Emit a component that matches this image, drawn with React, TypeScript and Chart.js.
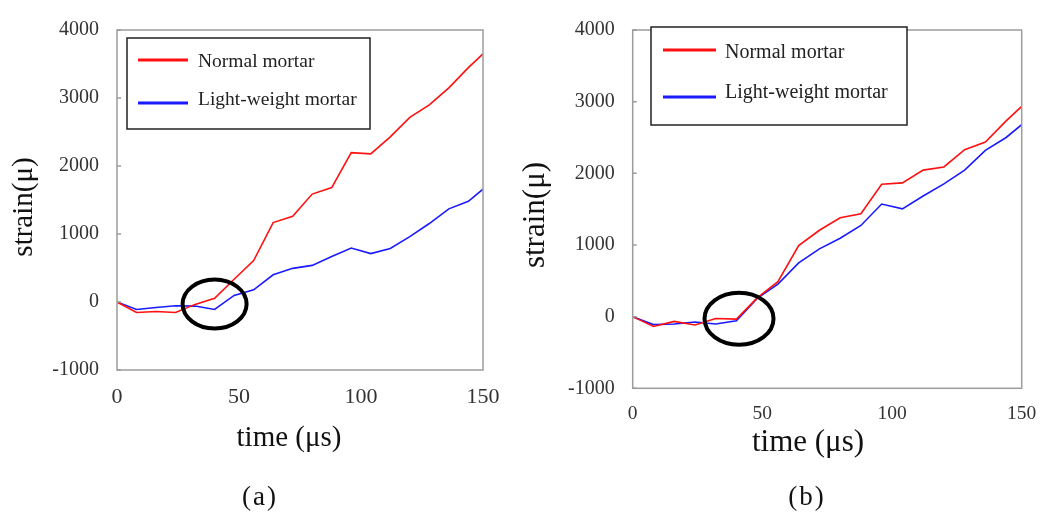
import React, { useEffect, useRef } from "react";
import { Chart, registerables } from "chart.js";

Chart.register(...registerables);

// ---- data ----
const timeUs = [0, 8, 16, 24, 32, 40, 48, 56, 64, 72, 80, 88, 96, 104, 112, 120, 128, 136, 144, 150];
const normalA = [0, -155, -140, -155, -35, 55, 335, 610, 1168, 1260, 1587, 1683, 2197, 2178, 2428, 2716, 2899, 3149, 3447, 3649];
const lightA = [0, -110, -80, -56, -60, -110, 96, 180, 400, 495, 538, 668, 793, 712, 788, 962, 1154, 1370, 1480, 1659];
const normalB = [0, -138, -67, -116, -27, -35, 262, 487, 991, 1205, 1379, 1437, 1848, 1866, 2045, 2089, 2330, 2437, 2732, 2933];
const lightB = [0, -111, -103, -75, -103, -58, 255, 455, 750, 946, 1094, 1272, 1571, 1504, 1683, 1853, 2045, 2321, 2500, 2679];
const yTickValues = [-1000, 0, 1000, 2000, 3000, 4000];
const xTickValues = [0, 50, 100, 150];
const seriesLabels = ["Normal mortar", "Light-weight mortar"];
const seriesColors = ["#ff1010", "#1a1aff"];
const panelCaptions = ["(a)", "(b)"];
const xTitle = "time (\u03bcs)";
const yTitle = "strain(\u03bc)";
const markTime = [40, 41];
const markStrain = [-30, -30];

const SERIF = "'Liberation Serif', 'Times New Roman', serif";

type Panel = {
  left: number;
  width: number;
  height: number;
  plot: { left: number; right: number; top: number; bottom: number };
  normal: number[];
  light: number[];
  caption: string;
  captionX: number;
  captionY: number;
  xTitleX: number;
  xTitleY: number;
  yTitleX: number;
  yTitleY: number;
  titleSize: number;
  yTickSize: number;
  xTickSize: number;
  xTickPad: number;
  legend: { x: number; y: number; w: number; h: number; lineX0: number; lineX1: number; textX: number; rows: number[]; textRows: number[]; fontSize: number };
  ellipse: { t: number; s: number; rx: number; ry: number };
};

const panels: Panel[] = [
  {
    left: 0,
    width: 520,
    height: 518,
    plot: { left: 117, right: 483, top: 25, bottom: 370 },
    normal: normalA,
    light: lightA,
    caption: panelCaptions[0],
    captionX: 259,
    captionY: 498,
    xTitleX: 289,
    xTitleY: 438,
    yTitleX: 24,
    yTitleY: 207,
    titleSize: 29,
    yTickSize: 20,
    xTickSize: 22,
    xTickPad: 14,
    legend: { x: 127, y: 38, w: 243, h: 91, lineX0: 138, lineX1: 188, textX: 198, rows: [60, 103], textRows: [62, 100], fontSize: 19.5 },
    ellipse: { t: markTime[0], s: markStrain[0], rx: 32, ry: 24.5 },
  },
  {
    left: 520,
    width: 531,
    height: 518,
    plot: { left: 112.7, right: 501.7, top: 15.7, bottom: 388.3 },
    normal: normalB,
    light: lightB,
    caption: panelCaptions[1],
    captionX: 286,
    captionY: 498,
    xTitleX: 288,
    xTitleY: 443,
    yTitleX: 16,
    yTitleY: 215,
    titleSize: 31,
    yTickSize: 20,
    xTickSize: 19.5,
    xTickPad: 14,
    legend: { x: 131, y: 27, w: 256, h: 98, lineX0: 143, lineX1: 196, textX: 205, rows: [50, 97], textRows: [53, 93], fontSize: 20 },
    ellipse: { t: markTime[1], s: markStrain[1], rx: 34.5, ry: 26 },
  },
];

function makeDecor(p: Panel) {
  return {
    id: "decor",
    afterDraw(chart: any) {
      const { ctx, chartArea: ca, scales } = chart;
      ctx.save();
      // plot frame
      ctx.strokeStyle = "#9c9c9c";
      ctx.lineWidth = 1.5;
      ctx.strokeRect(ca.left, ca.top, ca.right - ca.left, ca.bottom - ca.top);
      // inward ticks on y axis
      ctx.beginPath();
      yTickValues.forEach((v) => {
        const y = scales.y.getPixelForValue(v);
        ctx.moveTo(ca.left, y);
        ctx.lineTo(ca.left + 4, y);
      });
      ctx.stroke();

      // highlight ellipse
      const cx = scales.x.getPixelForValue(p.ellipse.t);
      const cy = scales.y.getPixelForValue(p.ellipse.s);
      ctx.beginPath();
      ctx.ellipse(cx, cy, p.ellipse.rx, p.ellipse.ry, 0, 0, Math.PI * 2);
      ctx.strokeStyle = "#000";
      ctx.lineWidth = 4;
      ctx.stroke();

      // legend box
      const L = p.legend;
      ctx.fillStyle = "#fff";
      ctx.fillRect(L.x, L.y, L.w, L.h);
      ctx.strokeStyle = "#222";
      ctx.lineWidth = 1.5;
      ctx.strokeRect(L.x, L.y, L.w, L.h);
      chart.data.datasets.forEach((ds: any, i: number) => {
        ctx.beginPath();
        ctx.strokeStyle = ds.borderColor;
        ctx.lineWidth = 3;
        ctx.moveTo(L.lineX0, L.rows[i]);
        ctx.lineTo(L.lineX1, L.rows[i]);
        ctx.stroke();
        ctx.fillStyle = "#222";
        ctx.font = `${L.fontSize}px ${SERIF}`;
        ctx.textAlign = "left";
        ctx.textBaseline = "middle";
        ctx.fillText(ds.label, L.textX, L.textRows[i]);
      });

      // axis titles
      ctx.fillStyle = "#111";
      ctx.font = `${p.titleSize}px ${SERIF}`;
      ctx.textAlign = "center";
      ctx.textBaseline = "middle";
      ctx.fillText(xTitle, p.xTitleX, p.xTitleY);
      ctx.save();
      ctx.translate(p.yTitleX, p.yTitleY);
      ctx.rotate(-Math.PI / 2);
      ctx.fillText(yTitle, 0, 0);
      ctx.restore();

      // panel caption
      ctx.fillStyle = "#111";
      ctx.font = `27px ${SERIF}`;
      (ctx as any).letterSpacing = "2px";
      ctx.textAlign = "center";
      ctx.textBaseline = "middle";
      ctx.fillText(p.caption, p.captionX + 1, p.captionY);
      (ctx as any).letterSpacing = "0px";
      ctx.restore();
    },
  };
}

function ChartPanel({ p }: { p: Panel }) {
  const ref = useRef<HTMLCanvasElement | null>(null);
  useEffect(() => {
    if (!ref.current) return;
    const chart = new Chart(ref.current, {
      type: "line",
      data: {
        datasets: [
          {
            label: seriesLabels[0],
            data: timeUs.map((t, i) => ({ x: t, y: p.normal[i] })),
            borderColor: seriesColors[0],
            borderWidth: 1.6,
            pointRadius: 0,
            tension: 0,
            fill: false,
          },
          {
            label: seriesLabels[1],
            data: timeUs.map((t, i) => ({ x: t, y: p.light[i] })),
            borderColor: seriesColors[1],
            borderWidth: 1.6,
            pointRadius: 0,
            tension: 0,
            fill: false,
          },
        ],
      },
      options: {
        animation: false,
        responsive: false,
        events: [],
        layout: {
          padding: { top: p.plot.top, right: p.width - p.plot.right, left: 0, bottom: 0 },
        },
        plugins: { legend: { display: false }, tooltip: { enabled: false }, title: { display: false } },
        scales: {
          x: {
            type: "linear",
            min: 0,
            max: 150,
            afterBuildTicks: (s: any) => {
              s.ticks = xTickValues.map((v) => ({ value: v }));
            },
            afterFit: (s: any) => {
              s.height = p.height - p.plot.bottom;
            },
            grid: { display: false, drawTicks: false },
            border: { display: false },
            ticks: {
              padding: p.xTickPad,
              maxRotation: 0,
              autoSkip: false,
              color: "#333",
              callback: (v: any) => String(v),
              font: { family: SERIF, size: p.xTickSize },
            },
          },
          y: {
            type: "linear",
            min: -1000,
            max: 4000,
            afterBuildTicks: (s: any) => {
              s.ticks = yTickValues.map((v) => ({ value: v }));
            },
            afterFit: (s: any) => {
              s.width = p.plot.left;
            },
            grid: { display: false, drawTicks: false },
            border: { display: false },
            ticks: {
              padding: 18,
              autoSkip: false,
              color: "#333",
              callback: (v: any) => String(v),
              font: { family: SERIF, size: p.yTickSize },
            },
          },
        },
      },
      plugins: [makeDecor(p)],
    } as any);
    return () => chart.destroy();
  }, [p]);
  return (
    <canvas
      ref={ref}
      width={p.width}
      height={p.height}
      style={{ position: "absolute", left: p.left, top: 0, width: p.width, height: p.height }}
    />
  );
}

export default function App() {
  return (
    <div style={{ position: "fixed", left: 0, top: 0, width: 1051, height: 518, background: "#fff", overflow: "hidden" }}>
      {panels.map((p, i) => (
        <ChartPanel key={i} p={p} />
      ))}
    </div>
  );
}
